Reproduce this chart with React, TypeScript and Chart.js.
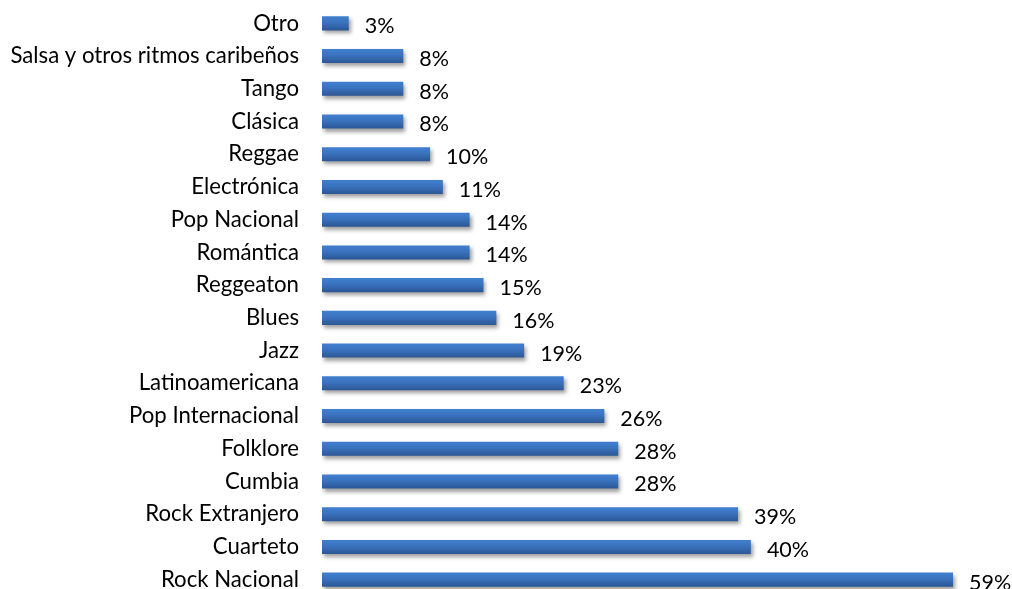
import React, { useEffect, useRef } from "react";
import { Chart, registerables } from "chart.js";

Chart.register(...registerables);

const categories = [
  "Otro",
  "Salsa y otros ritmos caribeños",
  "Tango",
  "Clásica",
  "Reggae",
  "Electrónica",
  "Pop Nacional",
  "Romántica",
  "Reggeaton",
  "Blues",
  "Jazz",
  "Latinoamericana",
  "Pop Internacional",
  "Folklore",
  "Cumbia",
  "Rock Extranjero",
  "Cuarteto",
  "Rock Nacional",
];

const values = [
  2.5, 7.6, 7.6, 7.6, 10.1, 11.3, 13.8, 13.8, 15.1, 16.3, 18.9, 22.6, 26.4,
  27.7, 27.7, 38.9, 40.1, 59.0,
];

const valueLabels = values.map((v) => Math.round(v) + "%");

const X_MAX = 64;
const BAR_RATIO = 0.43;
const FONT_FAMILY = "Lato, 'Open Sans', sans-serif";
const TICK_FONT_SIZE = 22.2;
const VALUE_FONT_SIZE = 21.5;

const shadowPlugin = {
  id: "barShadow",
  beforeDatasetDraw(chart: any) {
    const ctx = chart.ctx;
    ctx.save();
    ctx.shadowColor = "rgba(0,0,0,0.38)";
    ctx.shadowBlur = 4;
    ctx.shadowOffsetX = 2;
    ctx.shadowOffsetY = 3;
  },
  afterDatasetDraw(chart: any) {
    chart.ctx.restore();
  },
};

const valueLabelPlugin = {
  id: "valueLabels",
  afterDatasetsDraw(chart: any) {
    const ctx = chart.ctx;
    const meta = chart.getDatasetMeta(0);
    ctx.save();
    ctx.font = `${VALUE_FONT_SIZE}px ${FONT_FAMILY}`;
    ctx.fillStyle = "#000";
    ctx.textAlign = "left";
    ctx.textBaseline = "middle";
    meta.data.forEach((bar: any, i: number) => {
      ctx.fillText(valueLabels[i], bar.x + 16, bar.y + 3);
    });
    ctx.restore();
  },
};

export default function App() {
  const canvasRef = useRef<HTMLCanvasElement | null>(null);

  useEffect(() => {
    if (!canvasRef.current) return;
    const chart = new Chart(canvasRef.current, {
      type: "bar",
      data: {
        labels: categories,
        datasets: [
          {
            data: values,
            borderWidth: 0,
            categoryPercentage: 1,
            barPercentage: BAR_RATIO,
            backgroundColor: (c: any) => {
              const ch = c.chart;
              const ys = ch.scales && ch.scales.y;
              if (!ys || c.dataIndex === undefined) return "#3a6fb8";
              const yc = ys.getPixelForValue(c.dataIndex);
              const half = ((ys.height / categories.length) * BAR_RATIO) / 2;
              if (!isFinite(yc) || !isFinite(half) || half <= 0) return "#3a6fb8";
              const g = ch.ctx.createLinearGradient(0, yc - half, 0, yc + half);
              g.addColorStop(0, "#4080cf");
              g.addColorStop(0.45, "#3a72bd");
              g.addColorStop(1, "#2b5795");
              return g;
            },
          },
        ],
      },
      options: {
        indexAxis: "y",
        responsive: false,
        animation: false,
        layout: { padding: { left: 10, right: 5.5, top: 7, bottom: 4 } },
        plugins: {
          legend: { display: false },
          tooltip: { enabled: false },
        },
        scales: {
          x: {
            display: false,
            min: 0,
            max: X_MAX,
          },
          y: {
            grid: { display: false, drawTicks: false },
            border: { display: false },
            afterFit: (scale: any) => {
              scale.width = 312;
              scale.paddingTop = 0;
              scale.paddingBottom = 0;
            },
            ticks: {
              padding: 23,
              color: "#000",
              font: { family: FONT_FAMILY, size: TICK_FONT_SIZE },
              autoSkip: false,
            },
          },
        },
      },
      plugins: [shadowPlugin, valueLabelPlugin],
    });
    return () => chart.destroy();
  }, []);

  return (
    <div
      style={{
        position: "fixed",
        left: 0,
        top: 0,
        width: 1012,
        height: 600,
        background: "#fff",
      }}
    >
      <canvas ref={canvasRef} width={1012} height={600} />
    </div>
  );
}
